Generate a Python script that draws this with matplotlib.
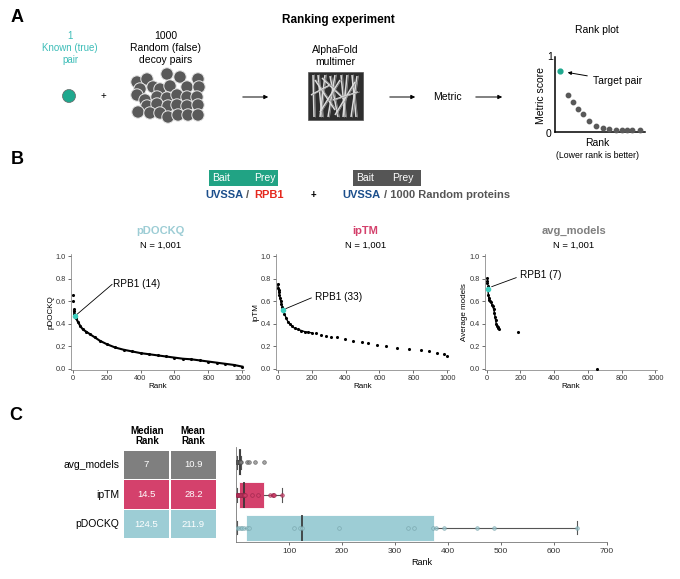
import matplotlib
matplotlib.use('Agg')
import matplotlib.pyplot as plt
from matplotlib.patches import Circle, Rectangle
import numpy as np

plt.rcParams['font.family'] = ['Liberation Sans', 'DejaVu Sans']

W, H = 680, 579

TEAL = '#1fa88e'
TEAL_TEXT = '#3dbdb8'
BLUE = '#1c4f8c'
RED = '#e5281d'
GRAY = '#7f7f7f'
PINK = '#d4416c'
LIGHTBLUE = '#9dcdd5'

# ---- panel A: schematic rank plot ----
schematic_x = [0.14, 0.20, 0.25, 0.31, 0.38, 0.46, 0.53, 0.60, 0.68, 0.74, 0.80, 0.86, 0.94]
schematic_y = [0.50, 0.40, 0.31, 0.235, 0.15, 0.085, 0.06, 0.04, 0.025, 0.025, 0.025, 0.03, 0.025]
schematic_target = (0.06, 0.82)

# decoy cluster (illustration, pixel positions)
decoy_x = [137, 147, 167, 180, 198, 140, 153, 160, 170, 187, 199, 137, 145, 157, 167, 177,
           187, 197, 147, 157, 168, 177, 187, 198, 138, 150, 160, 168, 178, 188, 198]
decoy_y = [82, 79, 74, 77, 79, 89, 87, 89, 86, 87, 87, 95, 100, 97, 98, 95,
           97, 97, 106, 104, 106, 105, 106, 105, 112, 113, 113, 117, 115, 115, 115]

# ---- panel B: rank plots (rank, score) ----
pdockq_rank = [1, 3, 5, 8, 10, 14, 20, 30, 45, 60, 80, 100, 130, 160, 200, 250, 300, 350, 400,
               450, 500, 550, 600, 650, 700, 750, 800, 850, 900, 950, 1000]
pdockq_score = [0.66, 0.60, 0.53, 0.51, 0.49, 0.47, 0.45, 0.42, 0.38, 0.35, 0.33, 0.31, 0.28,
                0.25, 0.22, 0.19, 0.17, 0.155, 0.14, 0.13, 0.12, 0.11, 0.10, 0.09, 0.085,
                0.075, 0.065, 0.055, 0.045, 0.035, 0.02]

iptm_rank = [1, 3, 5, 8, 10, 14, 18, 22, 27, 33, 40, 50, 60, 70, 85, 100, 120, 140, 160, 180,
             200, 228, 257, 283, 317, 347, 396, 446, 495, 535, 584, 638, 703, 772, 842, 891,
             941, 980, 1000]
iptm_score = [0.75, 0.72, 0.70, 0.68, 0.66, 0.63, 0.60, 0.58, 0.55, 0.52, 0.49, 0.45, 0.42,
              0.40, 0.38, 0.36, 0.35, 0.34, 0.33, 0.325, 0.32, 0.315, 0.303, 0.294, 0.285,
              0.279, 0.265, 0.25, 0.238, 0.226, 0.215, 0.20, 0.188, 0.176, 0.168, 0.156,
              0.138, 0.132, 0.118]

avg_rank = [0, 2, 4, 6, 7, 10, 13, 16, 20, 26, 31, 36, 41, 46, 50, 53, 57, 60, 65, 70, 75, 185, 652]
avg_score = [0.81, 0.78, 0.76, 0.74, 0.71, 0.66, 0.63, 0.61, 0.60, 0.59, 0.57, 0.56, 0.53,
             0.50, 0.46, 0.43, 0.40, 0.38, 0.37, 0.36, 0.35, 0.33, 0.0]

hit_rank = [14, 33, 7]
hit_score = [0.47, 0.52, 0.71]

# ---- panel C ----
metrics = ['avg_models', 'ipTM', 'pDOCKQ']
median_rank = ['7', '14.5', '124.5']
mean_rank = ['10.9', '28.2', '211.9']
avg_models_ranks = [1, 1, 2, 2, 3, 3, 4, 5, 6, 7, 7, 7, 8, 8, 9, 21, 25, 36, 53]
iptm_ranks = [1, 2, 3, 4, 5, 7, 9, 12, 13, 14.5, 16, 16.5, 31, 41, 64, 69, 70, 72, 86]
pdockq_ranks = [2, 5, 10, 12, 15, 21, 25, 110, 120, 124.5, 195, 325, 335, 372, 377, 392,
                455, 487, 643]

fig = plt.figure(figsize=(W / 100, H / 100), dpi=100)


def px_axes(x0, y0, x1, y1):
    return fig.add_axes([x0 / W, 1 - y1 / H, (x1 - x0) / W, (y1 - y0) / H])


ov = fig.add_axes([0, 0, 1, 1])
ov.set_xlim(0, W)
ov.set_ylim(H, 0)
ov.axis('off')

# panel letters
for lab, (x, y) in zip('ABC', [(17, 17), (17, 160), (16, 415)]):
    ov.text(x, y, lab, fontsize=13, fontweight='bold', ha='center', va='center')

# ---------- panel A ----------
ov.text(338, 20, 'Ranking experiment', fontsize=8.5, fontweight='bold', ha='center', va='center')
ov.text(70, 48, '1\nKnown (true)\npair', color=TEAL_TEXT, fontsize=7, ha='center', va='center',
        linespacing=1.25)
ov.text(166, 48, '1000\nRandom (false)\ndecoy pairs', fontsize=7.5, ha='center', va='center',
        linespacing=1.2)
ov.add_patch(Circle((69, 96), 6.5, facecolor=TEAL, edgecolor='#666', lw=0.5))
ov.text(103, 96, '+', fontsize=7, ha='center', va='center')
for x, y in zip(decoy_x, decoy_y):
    ov.add_patch(Circle((x, y), 6.2, facecolor='#595959', edgecolor='#e6e6e6', lw=0.7))

arrow_kw = dict(arrowstyle='-|>', color='black', lw=0.7, mutation_scale=6)
ov.annotate('', xy=(271, 97), xytext=(240, 97), arrowprops=arrow_kw)
ov.annotate('', xy=(418, 97), xytext=(387, 97), arrowprops=arrow_kw)
ov.annotate('', xy=(505, 97), xytext=(473, 97), arrowprops=arrow_kw)
ov.text(447, 97, 'Metric', fontsize=7.5, ha='center', va='center')

ov.text(335, 56, 'AlphaFold\nmultimer', fontsize=7.5, ha='center', va='center', linespacing=1.2)
ov.add_patch(Rectangle((308, 72), 55, 48, facecolor='#2e2e2e', edgecolor='#555', lw=0.5))
struct_segs = [((313, 75), (314, 117)), ((318, 75), (322, 117)), ((325, 75), (320, 117)),
               ((330, 76), (338, 117)), ((335, 75), (328, 117)), ((341, 75), (345, 117)),
               ((347, 75), (343, 117)), ((352, 75), (356, 117)), ((357, 76), (351, 117)),
               ((315, 80), (335, 110)), ((322, 78), (345, 100)), ((340, 80), (320, 112)),
               ((355, 82), (335, 115)), ((311, 95), (330, 85)), ((333, 100), (358, 92))]
for (xa, ya), (xb, yb) in struct_segs:
    ov.plot([xa, xb], [ya, yb], color='#dcdcdc', lw=1.1, solid_capstyle='butt')
    ov.plot([xa + 1.5, xb + 1.5], [ya, yb], color='#9a9a9a', lw=0.5)

ov.text(597, 30, 'Rank plot', fontsize=7.5, ha='center', va='center')
axs = px_axes(555, 57, 645, 132)
axs.scatter(schematic_x, schematic_y, s=10, color='#595959', zorder=3, clip_on=False)
axs.scatter([schematic_target[0]], [schematic_target[1]], s=12, color=TEAL, zorder=3)
axs.set_xlim(0, 1)
axs.set_ylim(0, 1)
for s in ['top', 'right']:
    axs.spines[s].set_visible(False)
for s in ['left', 'bottom']:
    axs.spines[s].set_linewidth(1.1)
axs.set_xticks([])
axs.set_yticks([])
axs.annotate('Target pair', xy=(0.11, 0.8), xytext=(0.42, 0.68), fontsize=7.5, va='center',
             arrowprops=dict(arrowstyle='-|>', color='black', lw=0.7, mutation_scale=5))
ov.text(550, 57, '1', fontsize=7.5, ha='center', va='center')
ov.text(549, 134, '0', fontsize=7.5, ha='center', va='center')
ov.text(541, 95, 'Metric score', fontsize=7.5, rotation=90, ha='center', va='center')
ov.text(597, 143, 'Rank', fontsize=7.5, ha='center', va='center')
ov.text(597, 156, '(Lower rank is better)', fontsize=6.3, ha='center', va='center')

# ---------- panel B ----------
ov.add_patch(Rectangle((209, 170), 69, 16, facecolor='#21a384', edgecolor='none'))
ov.text(212, 178, 'Bait', color='white', fontsize=7.5, va='center')
ov.text(265, 178, 'Prey', color='white', fontsize=7.5, ha='center', va='center')
ov.text(205, 195, 'UVSSA', color=BLUE, fontsize=8, fontweight='bold', va='center')
ov.text(246, 195, '/', color='#555', fontsize=8, fontweight='bold', va='center')
ov.text(254, 195, 'RPB1', color=RED, fontsize=8, fontweight='bold', va='center')
ov.text(313, 195, '+', fontsize=7, fontweight='bold', ha='center', va='center')
ov.add_patch(Rectangle((353, 170), 68, 16, facecolor='#555555', edgecolor='none'))
ov.text(356, 178, 'Bait', color='white', fontsize=7.5, va='center')
ov.text(403, 178, 'Prey', color='white', fontsize=7.5, ha='center', va='center')
ov.text(342, 195, 'UVSSA', color=BLUE, fontsize=8, fontweight='bold', va='center')
ov.text(384, 195, '/ 1000 Random proteins', color='#555', fontsize=8, fontweight='bold',
        va='center')

panels = [
    (71, 244, pdockq_rank, pdockq_score, 'pDOCKQ', 'pDOCKQ', LIGHTBLUE, 'RPB1 (14)',
     (22, 0.48), (232, 0.75), (240, 0.75), 8, 1000),
    (276, 449, iptm_rank, iptm_score, 'ipTM', 'ipTM', PINK, 'RPB1 (33)',
     (48, 0.535), (198, 0.63), (222, 0.64), 0, 200),
    (485, 657, avg_rank, avg_score, 'Average models', 'avg_models', GRAY, 'RPB1 (7)',
     (30, 0.73), (175, 0.81), (197, 0.83), 7, 75),
]
for i, (x0, x1, rk, sc, ylab, title, tcol, lab, p0, p1, ptxt, dense_from, dense_to) in enumerate(panels):
    ax = px_axes(x0, 254, x1, 370)
    rk = np.array(rk)
    sc = np.array(sc)
    dense = (rk >= dense_from) & (rk <= dense_to)
    ax.plot(rk[dense], sc[dense], color='black', lw=1.5 if i == 0 else 1.0)
    ax.scatter(rk, sc, s=1.5, color='black', zorder=3)
    ax.scatter([hit_rank[i]], [hit_score[i]], s=9, color='#3ecfbf', zorder=4)
    ax.plot([p0[0], p1[0]], [p0[1], p1[1]], color='black', lw=0.6)
    ax.text(ptxt[0], ptxt[1], lab, fontsize=7.2, va='center')
    ax.set_xlim(-10, 1010)
    ax.set_ylim(-0.01, 1.02)
    ax.set_xticks([0, 200, 400, 600, 800, 1000])
    ax.set_yticks([0.0, 0.2, 0.4, 0.6, 0.8, 1.0])
    ax.set_yticklabels(['0.0', '0.2', '0.4', '0.6', '0.8', '1.0'])
    ax.tick_params(labelsize=5.3, length=2, width=0.5, pad=1.5, colors='#333')
    for s in ['top', 'right']:
        ax.spines[s].set_visible(False)
    for s in ['left', 'bottom']:
        ax.spines[s].set_linewidth(0.5)
        ax.spines[s].set_color('#777')
    ax.set_xlabel('Rank', fontsize=5.8, labelpad=1)
    ax.set_ylabel(ylab, fontsize=5.8, labelpad=1)
    cx = (x0 + x1) / 2 + 3
    ov.text(cx, 231, title, color=tcol, fontsize=8, fontweight='bold', ha='center', va='center')
    ov.text(cx, 245, 'N = 1,001', fontsize=6.8, ha='center', va='center')

# ---------- panel C ----------
tab = px_axes(123, 450, 217, 539)
tab.set_xlim(0, 2)
tab.set_ylim(3, 0)
tab.axis('off')
row_cols = [GRAY, PINK, LIGHTBLUE]
for r in range(3):
    for c, vals in enumerate([median_rank, mean_rank]):
        tab.add_patch(Rectangle((c + 0.02, r + 0.02), 0.96, 0.96, facecolor=row_cols[r],
                                edgecolor='none'))
        tab.text(c + 0.5, r + 0.5, vals[r], color='white', fontsize=6.8, ha='center',
                 va='center')
    tab.text(-0.08, r + 0.5, metrics[r], fontsize=7.5, ha='right', va='center')
ov.text(147, 436, 'Median\nRank', fontsize=7, fontweight='bold', ha='center', va='center',
        linespacing=1.1)
ov.text(193, 436, 'Mean\nRank', fontsize=7, fontweight='bold', ha='center', va='center',
        linespacing=1.1)

bx = px_axes(236, 447, 607, 542)
box_data = [avg_models_ranks, iptm_ranks, pdockq_ranks]
edge_cols = ['#444', '#8e1f43', '#6d9aa1']
bp = bx.boxplot(box_data, vert=False, positions=[0, 1, 2], widths=0.8, patch_artist=True,
                showfliers=False, whis=1.5)
for k, patch in enumerate(bp['boxes']):
    patch.set_facecolor(row_cols[k])
    patch.set_edgecolor('white')
    patch.set_linewidth(0.6)
for med in bp['medians']:
    med.set_color('#333')
    med.set_linewidth(1.2)
for w in bp['whiskers'] + bp['caps']:
    w.set_color('#555')
    w.set_linewidth(0.8)
for k, vals in enumerate(box_data):
    bx.scatter(vals, [k] * len(vals), s=7, facecolor=row_cols[k], edgecolor=edge_cols[k],
               linewidth=0.5, alpha=0.7, zorder=3)
bx.set_xlim(0, 700)
bx.set_ylim(2.43, -0.46)
bx.set_yticks([])
bx.set_xticks([100, 200, 300, 400, 500, 600, 700])
bx.tick_params(labelsize=6, length=2.5, width=0.5, pad=2, colors='#333')
for s in ['top', 'right']:
    bx.spines[s].set_visible(False)
for s in ['left', 'bottom']:
    bx.spines[s].set_linewidth(0.6)
    bx.spines[s].set_color('#777')
bx.set_xlabel('Rank', fontsize=6.5, labelpad=2)
ov.text(590, 452, 'N = 19', fontsize=8, ha='center', va='center')

fig.savefig('out.png', dpi=100)
